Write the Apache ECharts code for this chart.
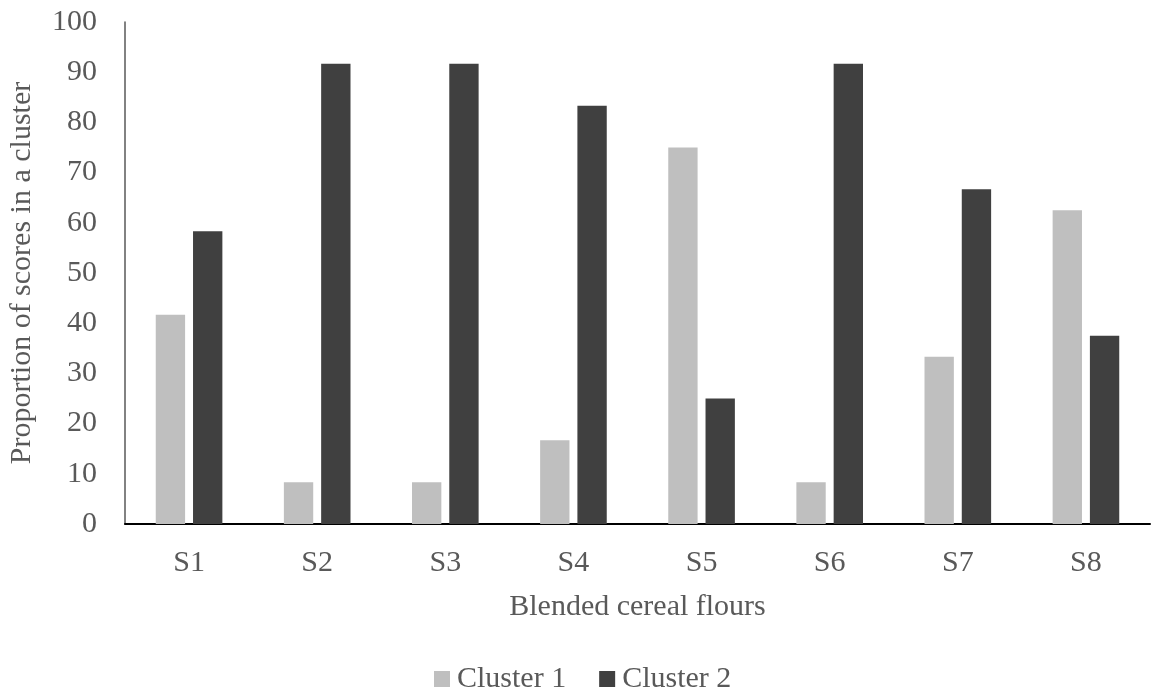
<!DOCTYPE html>
<html><head><meta charset="utf-8">
<script src="https://cdn.jsdelivr.net/npm/echarts@6/dist/echarts.min.js"></script>
<style>html,body{margin:0;padding:0;background:#fff}#c{width:1156px;height:696px}</style>
</head><body><div id="c"></div>
<script>
const categories = ['S1','S2','S3','S4','S5','S6','S7','S8'];
const cluster1 = [41.7, 8.3, 8.3, 16.7, 75.0, 8.3, 33.3, 62.5];
const cluster2 = [58.3, 91.7, 91.7, 83.3, 25.0, 91.7, 66.7, 37.5];
const seriesNames = ['Cluster 1','Cluster 2'];
const font = '"Liberation Serif", "Times New Roman", serif';
const chart = echarts.init(document.getElementById('c'));
chart.setOption({
  animation: false,
  textStyle: {fontFamily: font},
  grid: {left: 125, right: 6, top: 22, bottom: 172, containLabel: false, outerBoundsMode: 'none'},
  legend: {
    data: seriesNames, bottom: 2, left: 434, padding: 0, itemWidth: 16, itemHeight: 16, itemGap: 33,
    icon: 'rect',
    textStyle: {fontFamily: font, fontSize: 30, color: '#595959', padding: [0,0,0,2]}
  },
  xAxis: {
    type: 'category', data: categories,
    name: 'Blended cereal flours', nameLocation: 'middle', nameGap: 68,
    nameTextStyle: {fontFamily: font, fontSize: 30, color: '#595959'},
    axisLine: {lineStyle: {color: '#000', width: 2}},
    axisTick: {show: false},
    axisLabel: {fontFamily: font, fontSize: 30, color: '#595959', margin: 24}
  },
  yAxis: {
    type: 'value', min: 0, max: 100, interval: 10,
    name: 'Proportion of scores in a cluster', nameLocation: 'middle', nameGap: 88,
    nameTextStyle: {fontFamily: font, fontSize: 30, color: '#595959'},
    axisLine: {show: true, lineStyle: {color: '#595959', width: 1.5}},
    axisTick: {show: false},
    splitLine: {show: false},
    axisLabel: {fontFamily: font, fontSize: 30, color: '#595959', margin: 28}
  },
  series: [
    {name: seriesNames[0], type: 'bar', data: cluster1, itemStyle: {color: '#bfbfbf'}, barGap: '27%', barCategoryGap: '48%'},
    {name: seriesNames[1], type: 'bar', data: cluster2, itemStyle: {color: '#404040'}}
  ]
});
</script></body></html>
